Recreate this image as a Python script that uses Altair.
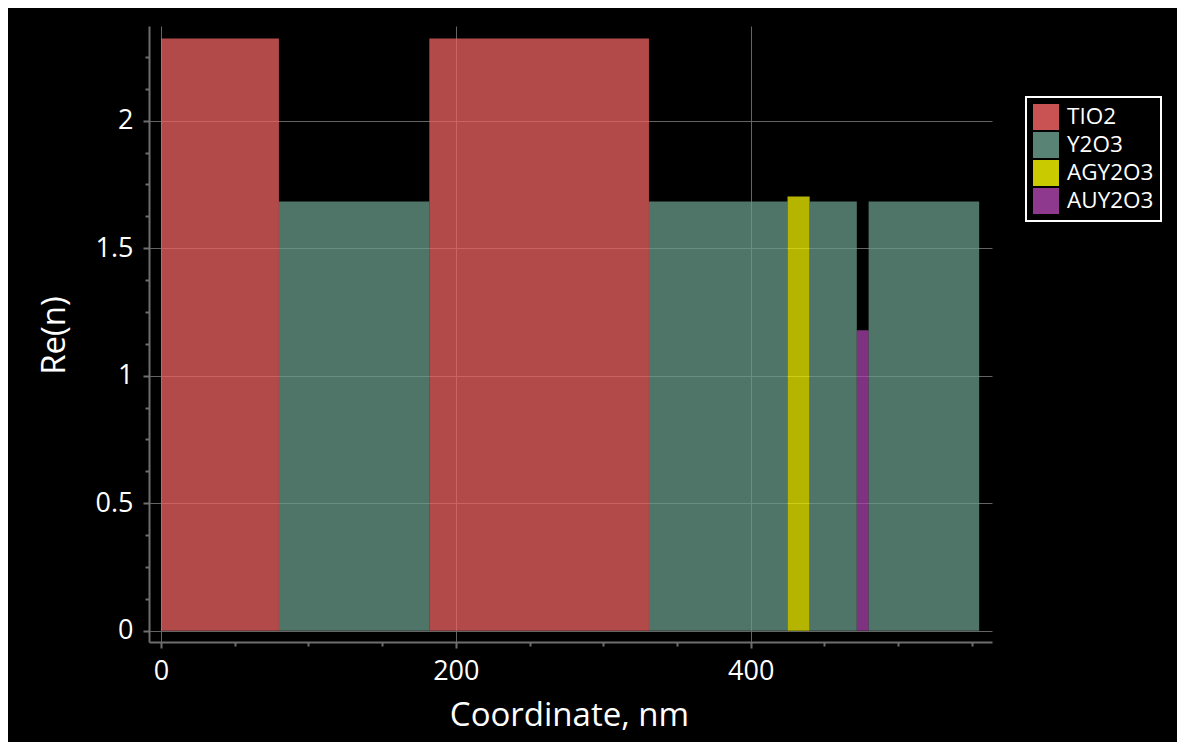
import altair as alt
import pandas as pd

# Layer stack (coordinate in nm, real part of refractive index)
materials = ["TIO2", "Y2O3", "TIO2", "Y2O3", "AGY2O3", "Y2O3", "AUY2O3", "Y2O3"]
x_start = [0, 80, 182, 331, 425, 440, 472, 480]
x_end = [80, 182, 331, 425, 440, 472, 480, 555]
re_n = [2.322, 1.683, 2.322, 1.683, 1.702, 1.683, 1.178, 1.683]
base = [0, 0, 0, 0, 0, 0, 0, 0]

legend_order = ["TIO2", "Y2O3", "AGY2O3", "AUY2O3"]
colors = ["#ef6363", "#699c8b", "#f1f100", "#a943a9"]

x_tick_values = [0, 50, 100, 150, 200, 250, 300, 350, 400, 450, 500, 550]
y_tick_values = [0, 0.125, 0.25, 0.375, 0.5, 0.625, 0.75, 0.875, 1.0, 1.125,
                 1.25, 1.375, 1.5, 1.625, 1.75, 1.875, 2.0, 2.125, 2.25]

df = pd.DataFrame({"material": materials, "x0": x_start, "x1": x_end,
                   "n": re_n, "base": base})

FONT = "Open Sans"
AX = "#6e6e6e"
GRID = "#646464"

x_major = "datum.value % 200 === 0"
y_major = "datum.value % 0.5 === 0"

x_axis = alt.Axis(
    values=x_tick_values,
    labelExpr=f"{x_major} ? format(datum.value, 'd') : ''",
    tickSize={"condition": {"test": x_major, "value": 6}, "value": 4},
    gridOpacity={"condition": {"test": x_major, "value": 1}, "value": 0},
    grid=True, gridColor=GRID, gridWidth=1,
    domainColor=AX, domainWidth=2, tickColor=AX, tickWidth=2,
    labelColor="white", labelFont=FONT, labelFontSize=27, labelPadding=10,
    labelFlush=False, labelOverlap=False,
    titleColor="white", titleFont=FONT, titleFontSize=33, titleFontWeight="normal",
    titleX=420, titleY=83, titleBaseline="alphabetic", titleAlign="center",
)

y_axis = alt.Axis(
    values=y_tick_values,
    labelExpr=f"{y_major} ? format(datum.value, '~g') : ''",
    tickSize={"condition": {"test": y_major, "value": 6}, "value": 4},
    gridOpacity={"condition": {"test": y_major, "value": 1}, "value": 0},
    grid=True, gridColor=GRID, gridWidth=1,
    domainColor=AX, domainWidth=2, tickColor=AX, tickWidth=2,
    labelColor="white", labelFont=FONT, labelFontSize=27, labelPadding=10,
    labelFlush=False, labelOverlap=False,
    titleColor="white", titleFont=FONT, titleFontSize=33, titleFontWeight="normal",
    titleX=-95, titleY=309, titleBaseline="middle", titleAlign="center", titleAngle=270,
)

chart = alt.Chart(df).mark_rect(opacity=0.75).encode(
    x=alt.X("x0:Q", title="Coordinate, nm",
            scale=alt.Scale(domain=[-8.14, 563.7], nice=False, zero=False),
            axis=x_axis),
    x2="x1:Q",
    y=alt.Y("n:Q", title="Re(n)",
            scale=alt.Scale(domain=[-0.0443, 2.371], nice=False, zero=False),
            axis=y_axis),
    y2="base:Q",
    color=alt.Color("material:N",
                    scale=alt.Scale(domain=legend_order, range=colors),
                    legend=alt.Legend(
                        title=None, orient="none", legendX=877, legendY=71,
                        fillColor="black", strokeColor="white", padding=7,
                        symbolType="square", symbolSize=676, symbolStrokeWidth=0,
                        symbolOpacity=0.84, labelColor="white", labelFont=FONT,
                        labelFontSize=22.5, labelOffset=8, rowPadding=2,
                        cornerRadius=0)),
    order=alt.Order("x0:Q"),
).properties(
    width=843, height=616, background="black",
    autosize=alt.AutoSizeParams(type="none"),
    padding={"left": 141, "top": 18, "right": 185, "bottom": 100},
).configure_view(stroke=None).configure_legend(strokeWidth=2)

chart.save("out.html", embed_options={"renderer": "svg", "actions": False})
